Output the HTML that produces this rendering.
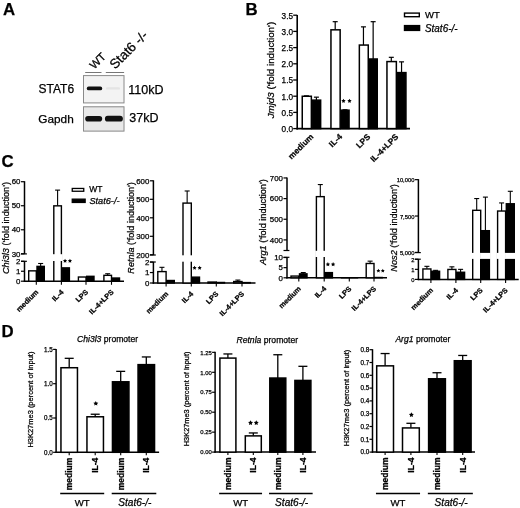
<!DOCTYPE html>
<html><head><meta charset="utf-8"><style>
html,body{margin:0;padding:0;background:#fff;width:520px;height:508px;overflow:hidden}
svg{filter:grayscale(1)}
svg{display:block}
text{font-family:"Liberation Sans", sans-serif;stroke:#000;stroke-width:0.25px;paint-order:stroke}
</style></head><body>
<svg width="520" height="508" viewBox="0 0 520 508">
<rect width="520" height="508" fill="#fff"/>
<text x="3.00" y="15.40" font-size="16.8" font-weight="bold">A</text>
<rect x="83.00" y="75.00" width="41.20" height="28.30" fill="#f3f3f3"/>
<rect x="83.5" y="75.6" width="40.5" height="27.3" fill="none" stroke="#8a8a8a" stroke-width="1"/>
<rect x="83.00" y="106.30" width="41.20" height="25.10" fill="#e9e9e9"/>
<rect x="83.5" y="106.8" width="40.5" height="24.3" fill="none" stroke="#8a8a8a" stroke-width="1"/>
<rect x="86.8" y="86.6" width="15.4" height="3.7" rx="1.85" fill="#111"/>
<rect x="106" y="87.2" width="14" height="2.4" rx="1.2" fill="#e4e4e4"/>
<rect x="85.2" y="116" width="17" height="5.6" rx="2.8" fill="#111"/>
<rect x="104.9" y="115.8" width="18" height="5.8" rx="2.9" fill="#111"/>
<line x1="85.20" y1="72.50" x2="101.50" y2="72.50" stroke="#666" stroke-width="0.9"/>
<line x1="105.80" y1="72.50" x2="124.10" y2="72.50" stroke="#666" stroke-width="0.9"/>
<text x="38.50" y="93.00" font-size="12">STAT6</text>
<text x="38.30" y="122.50" font-size="11.8">Gapdh</text>
<text x="128.30" y="94.00" font-size="12.5">110kD</text>
<text x="129.30" y="121.50" font-size="12.5">37kD</text>
<text x="0.00" y="0.00" font-size="11.3" transform="translate(94.20,69.70) rotate(-45)">WT</text>
<text x="0.00" y="0.00" font-size="13.4" transform="translate(115.00,69.80) rotate(-45)">Stat6 -/-</text>
<text x="245.50" y="14.70" font-size="16.8" font-weight="bold">B</text>
<line x1="297.20" y1="15.00" x2="297.20" y2="129.40" stroke="#000" stroke-width="1.6"/>
<line x1="296.40" y1="128.60" x2="410.00" y2="128.60" stroke="#000" stroke-width="1.6"/>
<line x1="293.20" y1="128.60" x2="297.20" y2="128.60" stroke="#000" stroke-width="1.3"/>
<text x="293.00" y="132.00" font-size="8.2" text-anchor="end">0.0</text>
<line x1="293.20" y1="112.40" x2="297.20" y2="112.40" stroke="#000" stroke-width="1.3"/>
<text x="293.00" y="115.80" font-size="8.2" text-anchor="end">0.5</text>
<line x1="293.20" y1="96.20" x2="297.20" y2="96.20" stroke="#000" stroke-width="1.3"/>
<text x="293.00" y="99.60" font-size="8.2" text-anchor="end">1.0</text>
<line x1="293.20" y1="80.00" x2="297.20" y2="80.00" stroke="#000" stroke-width="1.3"/>
<text x="293.00" y="83.40" font-size="8.2" text-anchor="end">1.5</text>
<line x1="293.20" y1="63.80" x2="297.20" y2="63.80" stroke="#000" stroke-width="1.3"/>
<text x="293.00" y="67.20" font-size="8.2" text-anchor="end">2.0</text>
<line x1="293.20" y1="47.60" x2="297.20" y2="47.60" stroke="#000" stroke-width="1.3"/>
<text x="293.00" y="51.00" font-size="8.2" text-anchor="end">2.5</text>
<line x1="293.20" y1="31.40" x2="297.20" y2="31.40" stroke="#000" stroke-width="1.3"/>
<text x="293.00" y="34.80" font-size="8.2" text-anchor="end">3.0</text>
<line x1="293.20" y1="15.20" x2="297.20" y2="15.20" stroke="#000" stroke-width="1.3"/>
<text x="293.00" y="18.60" font-size="8.2" text-anchor="end">3.5</text>
<line x1="306.45" y1="96.20" x2="306.45" y2="95.88" stroke="#000" stroke-width="1.2"/>
<line x1="303.95" y1="95.88" x2="308.95" y2="95.88" stroke="#000" stroke-width="1.2"/>
<line x1="316.40" y1="100.09" x2="316.40" y2="97.17" stroke="#000" stroke-width="1.2"/>
<line x1="313.90" y1="97.17" x2="318.90" y2="97.17" stroke="#000" stroke-width="1.2"/>
<rect x="302.25" y="96.25" width="9.10" height="32.35" fill="#fff" stroke="#000" stroke-width="1.5"/>
<rect x="312.15" y="100.14" width="8.50" height="28.46" fill="#000" stroke="#000" stroke-width="1.5"/>
<line x1="335.20" y1="29.78" x2="335.20" y2="21.68" stroke="#000" stroke-width="1.2"/>
<line x1="332.70" y1="21.68" x2="337.70" y2="21.68" stroke="#000" stroke-width="1.2"/>
<line x1="345.00" y1="110.13" x2="345.00" y2="109.81" stroke="#000" stroke-width="1.2"/>
<line x1="342.50" y1="109.81" x2="347.50" y2="109.81" stroke="#000" stroke-width="1.2"/>
<rect x="330.95" y="29.83" width="9.20" height="98.77" fill="#fff" stroke="#000" stroke-width="1.5"/>
<rect x="340.95" y="110.18" width="8.10" height="18.42" fill="#000" stroke="#000" stroke-width="1.5"/>
<line x1="363.45" y1="45.01" x2="363.45" y2="26.86" stroke="#000" stroke-width="1.2"/>
<line x1="360.95" y1="26.86" x2="365.95" y2="26.86" stroke="#000" stroke-width="1.2"/>
<line x1="373.15" y1="58.94" x2="373.15" y2="21.68" stroke="#000" stroke-width="1.2"/>
<line x1="370.65" y1="21.68" x2="375.65" y2="21.68" stroke="#000" stroke-width="1.2"/>
<rect x="359.35" y="45.06" width="8.90" height="83.54" fill="#fff" stroke="#000" stroke-width="1.5"/>
<rect x="369.05" y="58.99" width="8.20" height="69.61" fill="#000" stroke="#000" stroke-width="1.5"/>
<line x1="391.30" y1="61.53" x2="391.30" y2="57.32" stroke="#000" stroke-width="1.2"/>
<line x1="388.80" y1="57.32" x2="393.80" y2="57.32" stroke="#000" stroke-width="1.2"/>
<line x1="401.55" y1="72.55" x2="401.55" y2="61.86" stroke="#000" stroke-width="1.2"/>
<line x1="399.05" y1="61.86" x2="404.05" y2="61.86" stroke="#000" stroke-width="1.2"/>
<rect x="386.95" y="61.58" width="9.40" height="67.02" fill="#fff" stroke="#000" stroke-width="1.5"/>
<rect x="397.15" y="72.60" width="8.80" height="56.00" fill="#000" stroke="#000" stroke-width="1.5"/>
<polygon points="343.50,98.70 344.18,100.07 345.69,100.29 344.59,101.36 344.85,102.86 343.50,102.15 342.15,102.86 342.41,101.36 341.31,100.29 342.82,100.07" fill="#000"/>
<polygon points="349.50,98.70 350.18,100.07 351.69,100.29 350.59,101.36 350.85,102.86 349.50,102.15 348.15,102.86 348.41,101.36 347.31,100.29 348.82,100.07" fill="#000"/>
<text x="0.00" y="0.00" font-size="9.5" text-anchor="middle" transform="translate(273.60,70.10) rotate(-90)" textLength="96.5" lengthAdjust="spacingAndGlyphs"><tspan font-style="italic">Jmjd3</tspan> ('fold induction')</text>
<text x="0.00" y="0.00" font-size="8.3" text-anchor="end" font-weight="bold" transform="translate(314.00,137.30) rotate(-45)">medium</text>
<text x="0.00" y="0.00" font-size="8.3" text-anchor="end" font-weight="bold" transform="translate(342.80,137.30) rotate(-45)">IL-4</text>
<text x="0.00" y="0.00" font-size="8.3" text-anchor="end" font-weight="bold" transform="translate(370.90,137.30) rotate(-45)">LPS</text>
<text x="0.00" y="0.00" font-size="8.3" text-anchor="end" font-weight="bold" transform="translate(399.00,137.30) rotate(-45)">IL-4+LPS</text>
<rect x="404.50" y="13.10" width="14.80" height="3.60" fill="#fff" stroke="#000" stroke-width="1.4"/>
<rect x="404.50" y="25.60" width="15.10" height="4.80" fill="#000" stroke="#000" stroke-width="1.4"/>
<text x="425.00" y="18.20" font-size="9.5">WT</text>
<text x="425.00" y="31.70" font-size="10.5" font-style="italic" textLength="32.5" lengthAdjust="spacingAndGlyphs">Stat6-/-</text>
<text x="1.50" y="167.30" font-size="16.8" font-weight="bold">C</text>
<line x1="24.50" y1="181.21" x2="24.50" y2="253.90" stroke="#000" stroke-width="1.5"/>
<line x1="24.50" y1="261.30" x2="24.50" y2="281.95" stroke="#000" stroke-width="1.5"/>
<line x1="21.00" y1="253.90" x2="26.90" y2="253.90" stroke="#000" stroke-width="1.2"/>
<line x1="21.00" y1="261.30" x2="26.90" y2="261.30" stroke="#000" stroke-width="1.2"/>
<line x1="23.80" y1="281.20" x2="124.00" y2="281.20" stroke="#000" stroke-width="1.5"/>
<line x1="21.00" y1="281.20" x2="24.50" y2="281.20" stroke="#000" stroke-width="1.2"/>
<text x="20.50" y="283.90" font-size="7.9" text-anchor="end">0</text>
<line x1="21.00" y1="271.25" x2="24.50" y2="271.25" stroke="#000" stroke-width="1.2"/>
<text x="20.50" y="273.95" font-size="7.9" text-anchor="end">1</text>
<line x1="21.00" y1="261.30" x2="24.50" y2="261.30" stroke="#000" stroke-width="1.2"/>
<text x="20.50" y="264.00" font-size="7.9" text-anchor="end">2</text>
<line x1="21.00" y1="253.80" x2="24.50" y2="253.80" stroke="#000" stroke-width="1.2"/>
<text x="20.50" y="256.50" font-size="7.9" text-anchor="end">30</text>
<line x1="21.00" y1="229.77" x2="24.50" y2="229.77" stroke="#000" stroke-width="1.2"/>
<text x="20.50" y="232.47" font-size="7.9" text-anchor="end">40</text>
<line x1="21.00" y1="205.74" x2="24.50" y2="205.74" stroke="#000" stroke-width="1.2"/>
<text x="20.50" y="208.44" font-size="7.9" text-anchor="end">50</text>
<line x1="21.00" y1="181.71" x2="24.50" y2="181.71" stroke="#000" stroke-width="1.2"/>
<text x="20.50" y="184.41" font-size="7.9" text-anchor="end">60</text>
<line x1="36.30" y1="281.20" x2="36.30" y2="284.80" stroke="#000" stroke-width="1.1"/>
<line x1="61.40" y1="281.20" x2="61.40" y2="284.80" stroke="#000" stroke-width="1.1"/>
<line x1="86.00" y1="281.20" x2="86.00" y2="284.80" stroke="#000" stroke-width="1.1"/>
<line x1="111.50" y1="281.20" x2="111.50" y2="284.80" stroke="#000" stroke-width="1.1"/>
<rect x="28.70" y="270.85" width="7.60" height="10.35" fill="#fff" stroke="#000" stroke-width="1.4"/>
<line x1="40.65" y1="266.27" x2="40.65" y2="263.49" stroke="#000" stroke-width="1.1"/>
<line x1="38.15" y1="263.49" x2="43.15" y2="263.49" stroke="#000" stroke-width="1.1"/>
<rect x="37.00" y="266.37" width="7.30" height="14.83" fill="#000" stroke="#000" stroke-width="1.4"/>
<line x1="57.60" y1="205.74" x2="57.60" y2="190.12" stroke="#000" stroke-width="1.1"/>
<line x1="55.10" y1="190.12" x2="60.10" y2="190.12" stroke="#000" stroke-width="1.1"/>
<rect x="53.80" y="205.84" width="7.60" height="75.36" fill="#fff" stroke="#000" stroke-width="1.4"/>
<rect x="52.60" y="254.20" width="10.00" height="6.80" fill="#fff"/>
<rect x="62.10" y="267.87" width="7.30" height="13.33" fill="#000" stroke="#000" stroke-width="1.4"/>
<rect x="78.40" y="277.02" width="7.60" height="4.18" fill="#fff" stroke="#000" stroke-width="1.4"/>
<rect x="86.70" y="276.32" width="7.30" height="4.88" fill="#000" stroke="#000" stroke-width="1.4"/>
<line x1="107.70" y1="275.23" x2="107.70" y2="273.74" stroke="#000" stroke-width="1.1"/>
<line x1="105.20" y1="273.74" x2="110.20" y2="273.74" stroke="#000" stroke-width="1.1"/>
<rect x="103.90" y="275.33" width="7.60" height="5.87" fill="#fff" stroke="#000" stroke-width="1.4"/>
<rect x="112.20" y="278.02" width="7.30" height="3.18" fill="#000" stroke="#000" stroke-width="1.4"/>
<text x="0.00" y="0.00" font-size="9.5" text-anchor="middle" transform="translate(9.00,228.00) rotate(-90)" textLength="92.0" lengthAdjust="spacingAndGlyphs"><tspan font-style="italic">Chi3l3</tspan> ('fold induction')</text>
<text x="0.00" y="0.00" font-size="7.25" text-anchor="end" font-weight="bold" transform="translate(38.90,292.60) rotate(-45)">medium</text>
<text x="0.00" y="0.00" font-size="7.25" text-anchor="end" font-weight="bold" transform="translate(64.00,292.60) rotate(-45)">IL-4</text>
<text x="0.00" y="0.00" font-size="7.25" text-anchor="end" font-weight="bold" transform="translate(88.60,292.60) rotate(-45)">LPS</text>
<text x="0.00" y="0.00" font-size="7.25" text-anchor="end" font-weight="bold" transform="translate(114.10,292.60) rotate(-45)">IL-4+LPS</text>
<polygon points="65.05,258.80 65.70,260.11 67.14,260.32 66.10,261.34 66.34,262.78 65.05,262.10 63.76,262.78 64.00,261.34 62.96,260.32 64.40,260.11" fill="#000"/>
<polygon points="69.95,258.80 70.60,260.11 72.04,260.32 71.00,261.34 71.24,262.78 69.95,262.10 68.66,262.78 68.90,261.34 67.86,260.32 69.30,260.11" fill="#000"/>
<rect x="72.25" y="188.45" width="11.50" height="2.80" fill="#fff" stroke="#000" stroke-width="1.3"/>
<rect x="72.25" y="199.15" width="12.90" height="3.30" fill="#000" stroke="#000" stroke-width="1.3"/>
<text x="89.20" y="192.40" font-size="8.5">WT</text>
<text x="89.40" y="204.00" font-size="9.2" font-style="italic">Stat6-/-</text>
<line x1="153.40" y1="180.30" x2="153.40" y2="255.00" stroke="#000" stroke-width="1.5"/>
<line x1="153.40" y1="262.00" x2="153.40" y2="283.75" stroke="#000" stroke-width="1.5"/>
<line x1="149.90" y1="255.00" x2="155.80" y2="255.00" stroke="#000" stroke-width="1.2"/>
<line x1="149.90" y1="262.00" x2="155.80" y2="262.00" stroke="#000" stroke-width="1.2"/>
<line x1="152.70" y1="283.00" x2="255.50" y2="283.00" stroke="#000" stroke-width="1.5"/>
<line x1="149.90" y1="283.00" x2="153.40" y2="283.00" stroke="#000" stroke-width="1.2"/>
<text x="149.40" y="285.70" font-size="7.9" text-anchor="end">0</text>
<line x1="149.90" y1="272.55" x2="153.40" y2="272.55" stroke="#000" stroke-width="1.2"/>
<text x="149.40" y="275.25" font-size="7.9" text-anchor="end">1</text>
<line x1="149.90" y1="262.10" x2="153.40" y2="262.10" stroke="#000" stroke-width="1.2"/>
<text x="149.40" y="264.80" font-size="7.9" text-anchor="end">2</text>
<line x1="149.90" y1="254.80" x2="153.40" y2="254.80" stroke="#000" stroke-width="1.2"/>
<text x="149.40" y="257.50" font-size="7.9" text-anchor="end">200</text>
<line x1="149.90" y1="236.30" x2="153.40" y2="236.30" stroke="#000" stroke-width="1.2"/>
<text x="149.40" y="239.00" font-size="7.9" text-anchor="end">300</text>
<line x1="149.90" y1="217.80" x2="153.40" y2="217.80" stroke="#000" stroke-width="1.2"/>
<text x="149.40" y="220.50" font-size="7.9" text-anchor="end">400</text>
<line x1="149.90" y1="199.30" x2="153.40" y2="199.30" stroke="#000" stroke-width="1.2"/>
<text x="149.40" y="202.00" font-size="7.9" text-anchor="end">500</text>
<line x1="149.90" y1="180.80" x2="153.40" y2="180.80" stroke="#000" stroke-width="1.2"/>
<text x="149.40" y="183.50" font-size="7.9" text-anchor="end">600</text>
<line x1="166.10" y1="283.00" x2="166.10" y2="286.60" stroke="#000" stroke-width="1.1"/>
<line x1="191.30" y1="283.00" x2="191.30" y2="286.60" stroke="#000" stroke-width="1.1"/>
<line x1="216.30" y1="283.00" x2="216.30" y2="286.60" stroke="#000" stroke-width="1.1"/>
<line x1="242.00" y1="283.00" x2="242.00" y2="286.60" stroke="#000" stroke-width="1.1"/>
<line x1="161.95" y1="271.50" x2="161.95" y2="267.32" stroke="#000" stroke-width="1.1"/>
<line x1="159.45" y1="267.32" x2="164.45" y2="267.32" stroke="#000" stroke-width="1.1"/>
<rect x="157.80" y="271.60" width="8.30" height="11.40" fill="#fff" stroke="#000" stroke-width="1.4"/>
<rect x="166.80" y="280.49" width="7.50" height="2.51" fill="#000" stroke="#000" stroke-width="1.4"/>
<line x1="187.15" y1="203.00" x2="187.15" y2="190.98" stroke="#000" stroke-width="1.1"/>
<line x1="184.65" y1="190.98" x2="189.65" y2="190.98" stroke="#000" stroke-width="1.1"/>
<rect x="183.00" y="203.10" width="8.30" height="79.90" fill="#fff" stroke="#000" stroke-width="1.4"/>
<rect x="181.80" y="255.30" width="10.70" height="6.40" fill="#fff"/>
<rect x="192.00" y="277.14" width="7.50" height="5.86" fill="#000" stroke="#000" stroke-width="1.4"/>
<rect x="208.00" y="282.05" width="8.30" height="0.95" fill="#fff" stroke="#000" stroke-width="1.4"/>
<rect x="217.00" y="282.47" width="7.50" height="0.53" fill="#000" stroke="#000" stroke-width="1.4"/>
<line x1="237.85" y1="281.43" x2="237.85" y2="280.07" stroke="#000" stroke-width="1.1"/>
<line x1="235.35" y1="280.07" x2="240.35" y2="280.07" stroke="#000" stroke-width="1.1"/>
<rect x="233.70" y="281.53" width="8.30" height="1.47" fill="#fff" stroke="#000" stroke-width="1.4"/>
<rect x="242.70" y="282.58" width="7.50" height="0.42" fill="#000" stroke="#000" stroke-width="1.4"/>
<text x="0.00" y="0.00" font-size="9.5" text-anchor="middle" transform="translate(134.00,227.90) rotate(-90)" textLength="91.5" lengthAdjust="spacingAndGlyphs"><tspan font-style="italic">Retnla</tspan> ('fold induction')</text>
<text x="0.00" y="0.00" font-size="7.25" text-anchor="end" font-weight="bold" transform="translate(168.70,294.40) rotate(-45)">medium</text>
<text x="0.00" y="0.00" font-size="7.25" text-anchor="end" font-weight="bold" transform="translate(193.90,294.40) rotate(-45)">IL-4</text>
<text x="0.00" y="0.00" font-size="7.25" text-anchor="end" font-weight="bold" transform="translate(218.90,294.40) rotate(-45)">LPS</text>
<text x="0.00" y="0.00" font-size="7.25" text-anchor="end" font-weight="bold" transform="translate(244.60,294.40) rotate(-45)">IL-4+LPS</text>
<polygon points="194.55,265.70 195.20,267.01 196.64,267.22 195.60,268.24 195.84,269.68 194.55,269.00 193.26,269.68 193.50,268.24 192.46,267.22 193.90,267.01" fill="#000"/>
<polygon points="199.65,265.70 200.30,267.01 201.74,267.22 200.70,268.24 200.94,269.68 199.65,269.00 198.36,269.68 198.60,268.24 197.56,267.22 199.00,267.01" fill="#000"/>
<line x1="287.00" y1="177.45" x2="287.00" y2="250.50" stroke="#000" stroke-width="1.5"/>
<line x1="287.00" y1="257.30" x2="287.00" y2="278.55" stroke="#000" stroke-width="1.5"/>
<line x1="283.50" y1="250.50" x2="289.40" y2="250.50" stroke="#000" stroke-width="1.2"/>
<line x1="283.50" y1="257.30" x2="289.40" y2="257.30" stroke="#000" stroke-width="1.2"/>
<line x1="286.30" y1="277.80" x2="387.00" y2="277.80" stroke="#000" stroke-width="1.5"/>
<line x1="283.50" y1="277.80" x2="287.00" y2="277.80" stroke="#000" stroke-width="1.2"/>
<text x="283.00" y="280.50" font-size="7.9" text-anchor="end">0</text>
<line x1="283.50" y1="267.65" x2="287.00" y2="267.65" stroke="#000" stroke-width="1.2"/>
<text x="283.00" y="270.35" font-size="7.9" text-anchor="end">5</text>
<line x1="283.50" y1="257.50" x2="287.00" y2="257.50" stroke="#000" stroke-width="1.2"/>
<text x="283.00" y="260.20" font-size="7.9" text-anchor="end">10</text>
<line x1="283.50" y1="239.90" x2="287.00" y2="239.90" stroke="#000" stroke-width="1.2"/>
<text x="283.00" y="242.60" font-size="7.9" text-anchor="end">400</text>
<line x1="283.50" y1="219.25" x2="287.00" y2="219.25" stroke="#000" stroke-width="1.2"/>
<text x="283.00" y="221.95" font-size="7.9" text-anchor="end">500</text>
<line x1="283.50" y1="198.60" x2="287.00" y2="198.60" stroke="#000" stroke-width="1.2"/>
<text x="283.00" y="201.30" font-size="7.9" text-anchor="end">600</text>
<line x1="283.50" y1="177.95" x2="287.00" y2="177.95" stroke="#000" stroke-width="1.2"/>
<text x="283.00" y="180.65" font-size="7.9" text-anchor="end">700</text>
<line x1="298.80" y1="277.80" x2="298.80" y2="281.40" stroke="#000" stroke-width="1.1"/>
<line x1="324.20" y1="277.80" x2="324.20" y2="281.40" stroke="#000" stroke-width="1.1"/>
<line x1="349.30" y1="277.80" x2="349.30" y2="281.40" stroke="#000" stroke-width="1.1"/>
<line x1="374.00" y1="277.80" x2="374.00" y2="281.40" stroke="#000" stroke-width="1.1"/>
<rect x="291.00" y="276.07" width="7.80" height="1.73" fill="#fff" stroke="#000" stroke-width="1.4"/>
<line x1="303.25" y1="273.74" x2="303.25" y2="272.52" stroke="#000" stroke-width="1.1"/>
<line x1="300.75" y1="272.52" x2="305.75" y2="272.52" stroke="#000" stroke-width="1.1"/>
<rect x="299.50" y="273.84" width="7.50" height="3.96" fill="#000" stroke="#000" stroke-width="1.4"/>
<line x1="320.30" y1="196.54" x2="320.30" y2="184.56" stroke="#000" stroke-width="1.1"/>
<line x1="317.80" y1="184.56" x2="322.80" y2="184.56" stroke="#000" stroke-width="1.1"/>
<rect x="316.40" y="196.64" width="7.80" height="81.16" fill="#fff" stroke="#000" stroke-width="1.4"/>
<rect x="315.20" y="250.80" width="10.20" height="6.20" fill="#fff"/>
<rect x="324.90" y="272.62" width="7.50" height="5.18" fill="#000" stroke="#000" stroke-width="1.4"/>
<rect x="341.50" y="277.70" width="7.80" height="0.10" fill="#fff" stroke="#000" stroke-width="1.4"/>
<rect x="350.00" y="277.70" width="7.50" height="0.10" fill="#000" stroke="#000" stroke-width="1.4"/>
<line x1="370.10" y1="263.39" x2="370.10" y2="261.15" stroke="#000" stroke-width="1.1"/>
<line x1="367.60" y1="261.15" x2="372.60" y2="261.15" stroke="#000" stroke-width="1.1"/>
<rect x="366.20" y="263.49" width="7.80" height="14.31" fill="#fff" stroke="#000" stroke-width="1.4"/>
<rect x="374.70" y="277.49" width="7.50" height="0.31" fill="#000" stroke="#000" stroke-width="1.4"/>
<text x="0.00" y="0.00" font-size="8.4" text-anchor="middle" transform="translate(265.80,222.00) rotate(-90)" textLength="85.5" lengthAdjust="spacingAndGlyphs"><tspan font-style="italic">Arg1</tspan> ('fold induction')</text>
<text x="0.00" y="0.00" font-size="7.25" text-anchor="end" font-weight="bold" transform="translate(301.40,289.20) rotate(-45)">medium</text>
<text x="0.00" y="0.00" font-size="7.25" text-anchor="end" font-weight="bold" transform="translate(326.80,289.20) rotate(-45)">IL-4</text>
<text x="0.00" y="0.00" font-size="7.25" text-anchor="end" font-weight="bold" transform="translate(351.90,289.20) rotate(-45)">LPS</text>
<text x="0.00" y="0.00" font-size="7.25" text-anchor="end" font-weight="bold" transform="translate(376.60,289.20) rotate(-45)">IL-4+LPS</text>
<polygon points="327.90,262.10 328.58,263.47 330.09,263.69 328.99,264.76 329.25,266.26 327.90,265.55 326.55,266.26 326.81,264.76 325.71,263.69 327.22,263.47" fill="#000"/>
<polygon points="333.10,262.10 333.78,263.47 335.29,263.69 334.19,264.76 334.45,266.26 333.10,265.55 331.75,266.26 332.01,264.76 330.91,263.69 332.42,263.47" fill="#000"/>
<polygon points="378.40,268.70 379.02,269.95 380.40,270.15 379.40,271.12 379.63,272.50 378.40,271.85 377.17,272.50 377.40,271.12 376.40,270.15 377.78,269.95" fill="#000"/>
<polygon points="382.80,268.70 383.42,269.95 384.80,270.15 383.80,271.12 384.03,272.50 382.80,271.85 381.57,272.50 381.80,271.12 380.80,270.15 382.18,269.95" fill="#000"/>
<line x1="418.40" y1="179.15" x2="418.40" y2="252.60" stroke="#000" stroke-width="1.5"/>
<line x1="418.40" y1="259.20" x2="418.40" y2="280.15" stroke="#000" stroke-width="1.5"/>
<line x1="414.90" y1="252.60" x2="420.80" y2="252.60" stroke="#000" stroke-width="1.2"/>
<line x1="414.90" y1="259.20" x2="420.80" y2="259.20" stroke="#000" stroke-width="1.2"/>
<line x1="417.70" y1="279.40" x2="518.70" y2="279.40" stroke="#000" stroke-width="1.5"/>
<line x1="414.90" y1="279.40" x2="418.40" y2="279.40" stroke="#000" stroke-width="1.2"/>
<text x="414.40" y="282.10" font-size="5.8" text-anchor="end">0</text>
<line x1="414.90" y1="269.35" x2="418.40" y2="269.35" stroke="#000" stroke-width="1.2"/>
<text x="414.40" y="272.05" font-size="5.8" text-anchor="end">1</text>
<line x1="414.90" y1="259.30" x2="418.40" y2="259.30" stroke="#000" stroke-width="1.2"/>
<text x="414.40" y="262.00" font-size="5.8" text-anchor="end">2</text>
<line x1="414.90" y1="252.40" x2="418.40" y2="252.40" stroke="#000" stroke-width="1.2"/>
<text x="414.40" y="255.10" font-size="5.8" text-anchor="end">5,000</text>
<line x1="414.90" y1="216.03" x2="418.40" y2="216.03" stroke="#000" stroke-width="1.2"/>
<text x="414.40" y="218.72" font-size="5.8" text-anchor="end">7,500</text>
<line x1="414.90" y1="179.65" x2="418.40" y2="179.65" stroke="#000" stroke-width="1.2"/>
<text x="414.40" y="182.35" font-size="5.8" text-anchor="end">10,000</text>
<line x1="430.90" y1="279.40" x2="430.90" y2="283.00" stroke="#000" stroke-width="1.1"/>
<line x1="455.90" y1="279.40" x2="455.90" y2="283.00" stroke="#000" stroke-width="1.1"/>
<line x1="480.70" y1="279.40" x2="480.70" y2="283.00" stroke="#000" stroke-width="1.1"/>
<line x1="505.60" y1="279.40" x2="505.60" y2="283.00" stroke="#000" stroke-width="1.1"/>
<line x1="426.90" y1="268.85" x2="426.90" y2="266.33" stroke="#000" stroke-width="1.1"/>
<line x1="424.40" y1="266.33" x2="429.40" y2="266.33" stroke="#000" stroke-width="1.1"/>
<rect x="422.90" y="268.95" width="8.00" height="10.45" fill="#fff" stroke="#000" stroke-width="1.4"/>
<line x1="435.60" y1="271.16" x2="435.60" y2="270.35" stroke="#000" stroke-width="1.1"/>
<line x1="433.10" y1="270.35" x2="438.10" y2="270.35" stroke="#000" stroke-width="1.1"/>
<rect x="431.60" y="271.26" width="8.00" height="8.14" fill="#000" stroke="#000" stroke-width="1.4"/>
<line x1="451.90" y1="269.35" x2="451.90" y2="266.84" stroke="#000" stroke-width="1.1"/>
<line x1="449.40" y1="266.84" x2="454.40" y2="266.84" stroke="#000" stroke-width="1.1"/>
<rect x="447.90" y="269.45" width="8.00" height="9.95" fill="#fff" stroke="#000" stroke-width="1.4"/>
<line x1="460.60" y1="272.16" x2="460.60" y2="269.35" stroke="#000" stroke-width="1.1"/>
<line x1="458.10" y1="269.35" x2="463.10" y2="269.35" stroke="#000" stroke-width="1.1"/>
<rect x="456.60" y="272.26" width="8.00" height="7.14" fill="#000" stroke="#000" stroke-width="1.4"/>
<line x1="476.70" y1="210.21" x2="476.70" y2="198.56" stroke="#000" stroke-width="1.1"/>
<line x1="474.20" y1="198.56" x2="479.20" y2="198.56" stroke="#000" stroke-width="1.1"/>
<rect x="472.70" y="210.31" width="8.00" height="69.09" fill="#fff" stroke="#000" stroke-width="1.4"/>
<rect x="471.50" y="252.90" width="10.40" height="6.00" fill="#fff"/>
<line x1="485.40" y1="230.58" x2="485.40" y2="197.11" stroke="#000" stroke-width="1.1"/>
<line x1="482.90" y1="197.11" x2="487.90" y2="197.11" stroke="#000" stroke-width="1.1"/>
<rect x="481.40" y="230.68" width="8.00" height="48.72" fill="#000" stroke="#000" stroke-width="1.4"/>
<rect x="480.20" y="252.90" width="10.40" height="6.00" fill="#fff"/>
<line x1="501.60" y1="210.93" x2="501.60" y2="202.93" stroke="#000" stroke-width="1.1"/>
<line x1="499.10" y1="202.93" x2="504.10" y2="202.93" stroke="#000" stroke-width="1.1"/>
<rect x="497.60" y="211.03" width="8.00" height="68.37" fill="#fff" stroke="#000" stroke-width="1.4"/>
<rect x="496.40" y="252.90" width="10.40" height="6.00" fill="#fff"/>
<line x1="510.30" y1="203.66" x2="510.30" y2="191.29" stroke="#000" stroke-width="1.1"/>
<line x1="507.80" y1="191.29" x2="512.80" y2="191.29" stroke="#000" stroke-width="1.1"/>
<rect x="506.30" y="203.76" width="8.00" height="75.64" fill="#000" stroke="#000" stroke-width="1.4"/>
<rect x="505.10" y="252.90" width="10.40" height="6.00" fill="#fff"/>
<text x="0.00" y="0.00" font-size="9.5" text-anchor="middle" transform="translate(396.60,227.90) rotate(-90)" textLength="87.5" lengthAdjust="spacingAndGlyphs"><tspan font-style="italic">Nos2</tspan> ('fold induction')</text>
<text x="0.00" y="0.00" font-size="7.25" text-anchor="end" font-weight="bold" transform="translate(433.50,290.80) rotate(-45)">medium</text>
<text x="0.00" y="0.00" font-size="7.25" text-anchor="end" font-weight="bold" transform="translate(458.50,290.80) rotate(-45)">IL-4</text>
<text x="0.00" y="0.00" font-size="7.25" text-anchor="end" font-weight="bold" transform="translate(483.30,290.80) rotate(-45)">LPS</text>
<text x="0.00" y="0.00" font-size="7.25" text-anchor="end" font-weight="bold" transform="translate(508.20,290.80) rotate(-45)">IL-4+LPS</text>
<text x="1.50" y="337.30" font-size="16.8" font-weight="bold">D</text>
<line x1="56.10" y1="348.90" x2="56.10" y2="453.05" stroke="#000" stroke-width="1.5"/>
<line x1="55.40" y1="452.30" x2="159.10" y2="452.30" stroke="#000" stroke-width="1.5"/>
<line x1="53.10" y1="452.30" x2="56.10" y2="452.30" stroke="#000" stroke-width="1.2"/>
<text x="52.80" y="454.50" font-size="6.3" text-anchor="end">0.0</text>
<line x1="53.10" y1="418.00" x2="56.10" y2="418.00" stroke="#000" stroke-width="1.2"/>
<text x="52.80" y="420.20" font-size="6.3" text-anchor="end">0.5</text>
<line x1="53.10" y1="383.70" x2="56.10" y2="383.70" stroke="#000" stroke-width="1.2"/>
<text x="52.80" y="385.90" font-size="6.3" text-anchor="end">1.0</text>
<line x1="53.10" y1="349.40" x2="56.10" y2="349.40" stroke="#000" stroke-width="1.2"/>
<text x="52.80" y="351.60" font-size="6.3" text-anchor="end">1.5</text>
<line x1="69.20" y1="367.58" x2="69.20" y2="358.32" stroke="#000" stroke-width="1.3"/>
<line x1="64.70" y1="358.32" x2="73.70" y2="358.32" stroke="#000" stroke-width="1.3"/>
<rect x="60.95" y="367.73" width="16.50" height="84.57" fill="#fff" stroke="#000" stroke-width="1.5"/>
<line x1="69.20" y1="452.30" x2="69.20" y2="455.30" stroke="#000" stroke-width="1.1"/>
<line x1="95.20" y1="416.63" x2="95.20" y2="414.23" stroke="#000" stroke-width="1.3"/>
<line x1="90.70" y1="414.23" x2="99.70" y2="414.23" stroke="#000" stroke-width="1.3"/>
<rect x="86.95" y="416.78" width="16.50" height="35.52" fill="#fff" stroke="#000" stroke-width="1.5"/>
<line x1="95.20" y1="452.30" x2="95.20" y2="455.30" stroke="#000" stroke-width="1.1"/>
<line x1="120.70" y1="381.64" x2="120.70" y2="371.35" stroke="#000" stroke-width="1.3"/>
<line x1="116.20" y1="371.35" x2="125.20" y2="371.35" stroke="#000" stroke-width="1.3"/>
<rect x="112.45" y="381.79" width="16.50" height="70.51" fill="#000" stroke="#000" stroke-width="1.5"/>
<line x1="120.70" y1="452.30" x2="120.70" y2="455.30" stroke="#000" stroke-width="1.1"/>
<line x1="146.30" y1="364.49" x2="146.30" y2="356.95" stroke="#000" stroke-width="1.3"/>
<line x1="141.80" y1="356.95" x2="150.80" y2="356.95" stroke="#000" stroke-width="1.3"/>
<rect x="138.05" y="364.64" width="16.50" height="87.66" fill="#000" stroke="#000" stroke-width="1.5"/>
<line x1="146.30" y1="452.30" x2="146.30" y2="455.30" stroke="#000" stroke-width="1.1"/>
<text x="0.00" y="0.00" font-size="8.5" text-anchor="end" font-weight="bold" transform="translate(72.20,457.70) rotate(-90)">medium</text>
<text x="0.00" y="0.00" font-size="8.5" text-anchor="end" font-weight="bold" transform="translate(98.20,457.70) rotate(-90)">IL-4</text>
<text x="0.00" y="0.00" font-size="8.5" text-anchor="end" font-weight="bold" transform="translate(123.70,457.70) rotate(-90)">medium</text>
<text x="0.00" y="0.00" font-size="8.5" text-anchor="end" font-weight="bold" transform="translate(149.30,457.70) rotate(-90)">IL-4</text>
<line x1="60.20" y1="493.50" x2="104.20" y2="493.50" stroke="#000" stroke-width="1.3"/>
<line x1="111.70" y1="493.50" x2="156.30" y2="493.50" stroke="#000" stroke-width="1.3"/>
<text x="82.20" y="505.50" font-size="9.6" text-anchor="middle">WT</text>
<text x="134.80" y="505.80" font-size="10.1" text-anchor="middle" font-style="italic">Stat6-/-</text>
<text x="77.00" y="342.40" font-size="8.6"><tspan font-style="italic">Chi3l3</tspan> promoter</text>
<polygon points="95.80,400.90 96.56,402.45 98.27,402.70 97.04,403.90 97.33,405.60 95.80,404.80 94.27,405.60 94.56,403.90 93.33,402.70 95.04,402.45" fill="#000"/>
<text x="0.00" y="0.00" font-size="7.4" text-anchor="middle" transform="translate(33.20,399.60) rotate(-90)" textLength="96" lengthAdjust="spacingAndGlyphs">H3K27me3 (percent of input)</text>
<line x1="215.10" y1="351.85" x2="215.10" y2="452.85" stroke="#000" stroke-width="1.5"/>
<line x1="214.40" y1="452.10" x2="316.00" y2="452.10" stroke="#000" stroke-width="1.5"/>
<line x1="212.10" y1="452.10" x2="215.10" y2="452.10" stroke="#000" stroke-width="1.2"/>
<text x="211.80" y="454.30" font-size="5.9" text-anchor="end">0.00</text>
<line x1="212.10" y1="432.15" x2="215.10" y2="432.15" stroke="#000" stroke-width="1.2"/>
<text x="211.80" y="434.35" font-size="5.9" text-anchor="end">0.25</text>
<line x1="212.10" y1="412.20" x2="215.10" y2="412.20" stroke="#000" stroke-width="1.2"/>
<text x="211.80" y="414.40" font-size="5.9" text-anchor="end">0.50</text>
<line x1="212.10" y1="392.25" x2="215.10" y2="392.25" stroke="#000" stroke-width="1.2"/>
<text x="211.80" y="394.45" font-size="5.9" text-anchor="end">0.75</text>
<line x1="212.10" y1="372.30" x2="215.10" y2="372.30" stroke="#000" stroke-width="1.2"/>
<text x="211.80" y="374.50" font-size="5.9" text-anchor="end">1.00</text>
<line x1="212.10" y1="352.35" x2="215.10" y2="352.35" stroke="#000" stroke-width="1.2"/>
<text x="211.80" y="354.55" font-size="5.9" text-anchor="end">1.25</text>
<line x1="227.90" y1="357.94" x2="227.90" y2="353.95" stroke="#000" stroke-width="1.3"/>
<line x1="223.40" y1="353.95" x2="232.40" y2="353.95" stroke="#000" stroke-width="1.3"/>
<rect x="219.90" y="358.09" width="16.00" height="94.01" fill="#fff" stroke="#000" stroke-width="1.5"/>
<line x1="227.90" y1="452.10" x2="227.90" y2="455.10" stroke="#000" stroke-width="1.1"/>
<line x1="253.30" y1="435.74" x2="253.30" y2="432.95" stroke="#000" stroke-width="1.3"/>
<line x1="248.80" y1="432.95" x2="257.80" y2="432.95" stroke="#000" stroke-width="1.3"/>
<rect x="245.30" y="435.89" width="16.00" height="16.21" fill="#fff" stroke="#000" stroke-width="1.5"/>
<line x1="253.30" y1="452.10" x2="253.30" y2="455.10" stroke="#000" stroke-width="1.1"/>
<line x1="277.80" y1="377.89" x2="277.80" y2="354.74" stroke="#000" stroke-width="1.3"/>
<line x1="273.30" y1="354.74" x2="282.30" y2="354.74" stroke="#000" stroke-width="1.3"/>
<rect x="269.80" y="378.04" width="16.00" height="74.06" fill="#000" stroke="#000" stroke-width="1.5"/>
<line x1="277.80" y1="452.10" x2="277.80" y2="455.10" stroke="#000" stroke-width="1.1"/>
<line x1="302.90" y1="380.28" x2="302.90" y2="366.32" stroke="#000" stroke-width="1.3"/>
<line x1="298.40" y1="366.32" x2="307.40" y2="366.32" stroke="#000" stroke-width="1.3"/>
<rect x="294.90" y="380.43" width="16.00" height="71.67" fill="#000" stroke="#000" stroke-width="1.5"/>
<line x1="302.90" y1="452.10" x2="302.90" y2="455.10" stroke="#000" stroke-width="1.1"/>
<text x="0.00" y="0.00" font-size="8.5" text-anchor="end" font-weight="bold" transform="translate(230.90,457.50) rotate(-90)">medium</text>
<text x="0.00" y="0.00" font-size="8.5" text-anchor="end" font-weight="bold" transform="translate(256.30,457.50) rotate(-90)">IL-4</text>
<text x="0.00" y="0.00" font-size="8.5" text-anchor="end" font-weight="bold" transform="translate(280.80,457.50) rotate(-90)">medium</text>
<text x="0.00" y="0.00" font-size="8.5" text-anchor="end" font-weight="bold" transform="translate(305.90,457.50) rotate(-90)">IL-4</text>
<line x1="219.15" y1="493.50" x2="262.05" y2="493.50" stroke="#000" stroke-width="1.3"/>
<line x1="269.05" y1="493.50" x2="312.65" y2="493.50" stroke="#000" stroke-width="1.3"/>
<text x="240.60" y="505.50" font-size="9.6" text-anchor="middle">WT</text>
<text x="291.65" y="505.80" font-size="10.1" text-anchor="middle" font-style="italic">Stat6-/-</text>
<text x="236.50" y="343.20" font-size="8.6"><tspan font-style="italic">Retnla</tspan> promoter</text>
<polygon points="250.55,420.30 251.31,421.85 253.02,422.10 251.79,423.30 252.08,425.00 250.55,424.20 249.02,425.00 249.31,423.30 248.08,422.10 249.79,421.85" fill="#000"/>
<polygon points="256.25,420.30 257.01,421.85 258.72,422.10 257.49,423.30 257.78,425.00 256.25,424.20 254.72,425.00 255.01,423.30 253.78,422.10 255.49,421.85" fill="#000"/>
<text x="0.00" y="0.00" font-size="7.4" text-anchor="middle" transform="translate(188.60,398.90) rotate(-90)" textLength="94.6" lengthAdjust="spacingAndGlyphs">H3K27me3 (percent of input)</text>
<line x1="372.50" y1="349.20" x2="372.50" y2="452.85" stroke="#000" stroke-width="1.5"/>
<line x1="371.80" y1="452.10" x2="475.00" y2="452.10" stroke="#000" stroke-width="1.5"/>
<line x1="369.50" y1="452.10" x2="372.50" y2="452.10" stroke="#000" stroke-width="1.2"/>
<text x="369.20" y="454.30" font-size="6.3" text-anchor="end">0.0</text>
<line x1="369.50" y1="439.30" x2="372.50" y2="439.30" stroke="#000" stroke-width="1.2"/>
<text x="369.20" y="441.50" font-size="6.3" text-anchor="end">0.1</text>
<line x1="369.50" y1="426.50" x2="372.50" y2="426.50" stroke="#000" stroke-width="1.2"/>
<text x="369.20" y="428.70" font-size="6.3" text-anchor="end">0.2</text>
<line x1="369.50" y1="413.70" x2="372.50" y2="413.70" stroke="#000" stroke-width="1.2"/>
<text x="369.20" y="415.90" font-size="6.3" text-anchor="end">0.3</text>
<line x1="369.50" y1="400.90" x2="372.50" y2="400.90" stroke="#000" stroke-width="1.2"/>
<text x="369.20" y="403.10" font-size="6.3" text-anchor="end">0.4</text>
<line x1="369.50" y1="388.10" x2="372.50" y2="388.10" stroke="#000" stroke-width="1.2"/>
<text x="369.20" y="390.30" font-size="6.3" text-anchor="end">0.5</text>
<line x1="369.50" y1="375.30" x2="372.50" y2="375.30" stroke="#000" stroke-width="1.2"/>
<text x="369.20" y="377.50" font-size="6.3" text-anchor="end">0.6</text>
<line x1="369.50" y1="362.50" x2="372.50" y2="362.50" stroke="#000" stroke-width="1.2"/>
<text x="369.20" y="364.70" font-size="6.3" text-anchor="end">0.7</text>
<line x1="369.50" y1="349.70" x2="372.50" y2="349.70" stroke="#000" stroke-width="1.2"/>
<text x="369.20" y="351.90" font-size="6.3" text-anchor="end">0.8</text>
<line x1="385.10" y1="365.70" x2="385.10" y2="353.54" stroke="#000" stroke-width="1.3"/>
<line x1="380.60" y1="353.54" x2="389.60" y2="353.54" stroke="#000" stroke-width="1.3"/>
<rect x="376.70" y="365.85" width="16.80" height="86.25" fill="#fff" stroke="#000" stroke-width="1.5"/>
<line x1="385.10" y1="452.10" x2="385.10" y2="455.10" stroke="#000" stroke-width="1.1"/>
<line x1="410.90" y1="427.78" x2="410.90" y2="423.30" stroke="#000" stroke-width="1.3"/>
<line x1="406.40" y1="423.30" x2="415.40" y2="423.30" stroke="#000" stroke-width="1.3"/>
<rect x="402.50" y="427.93" width="16.80" height="24.17" fill="#fff" stroke="#000" stroke-width="1.5"/>
<line x1="410.90" y1="452.10" x2="410.90" y2="455.10" stroke="#000" stroke-width="1.1"/>
<line x1="437.00" y1="378.63" x2="437.00" y2="372.74" stroke="#000" stroke-width="1.3"/>
<line x1="432.50" y1="372.74" x2="441.50" y2="372.74" stroke="#000" stroke-width="1.3"/>
<rect x="428.60" y="378.78" width="16.80" height="73.32" fill="#000" stroke="#000" stroke-width="1.5"/>
<line x1="437.00" y1="452.10" x2="437.00" y2="455.10" stroke="#000" stroke-width="1.1"/>
<line x1="462.70" y1="360.58" x2="462.70" y2="355.46" stroke="#000" stroke-width="1.3"/>
<line x1="458.20" y1="355.46" x2="467.20" y2="355.46" stroke="#000" stroke-width="1.3"/>
<rect x="454.30" y="360.73" width="16.80" height="91.37" fill="#000" stroke="#000" stroke-width="1.5"/>
<line x1="462.70" y1="452.10" x2="462.70" y2="455.10" stroke="#000" stroke-width="1.1"/>
<text x="0.00" y="0.00" font-size="8.5" text-anchor="end" font-weight="bold" transform="translate(388.10,457.50) rotate(-90)">medium</text>
<text x="0.00" y="0.00" font-size="8.5" text-anchor="end" font-weight="bold" transform="translate(413.90,457.50) rotate(-90)">IL-4</text>
<text x="0.00" y="0.00" font-size="8.5" text-anchor="end" font-weight="bold" transform="translate(440.00,457.50) rotate(-90)">medium</text>
<text x="0.00" y="0.00" font-size="8.5" text-anchor="end" font-weight="bold" transform="translate(465.70,457.50) rotate(-90)">IL-4</text>
<line x1="375.95" y1="493.50" x2="420.05" y2="493.50" stroke="#000" stroke-width="1.3"/>
<line x1="427.85" y1="493.50" x2="472.85" y2="493.50" stroke="#000" stroke-width="1.3"/>
<text x="398.00" y="505.50" font-size="9.6" text-anchor="middle">WT</text>
<text x="451.15" y="505.80" font-size="10.1" text-anchor="middle" font-style="italic">Stat6-/-</text>
<text x="395.40" y="342.40" font-size="8.6"><tspan font-style="italic">Arg1</tspan> promoter</text>
<polygon points="411.40,412.30 412.16,413.85 413.87,414.10 412.64,415.30 412.93,417.00 411.40,416.20 409.87,417.00 410.16,415.30 408.93,414.10 410.64,413.85" fill="#000"/>
<text x="0.00" y="0.00" font-size="7.4" text-anchor="middle" transform="translate(348.60,398.00) rotate(-90)" textLength="96.5" lengthAdjust="spacingAndGlyphs">H3K27me3 (percent of input)</text>
</svg></body></html>
